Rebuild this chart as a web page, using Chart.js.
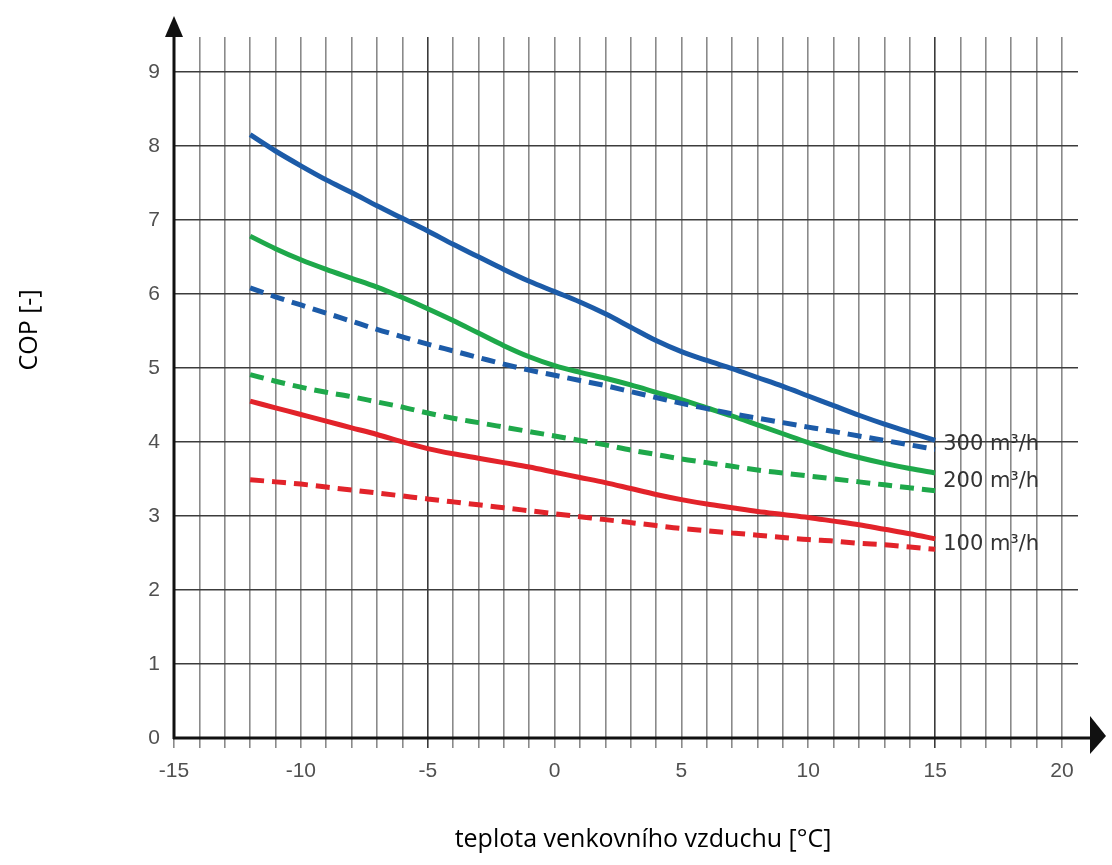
<!DOCTYPE html>
<html>
<head>
<meta charset="utf-8">
<title>COP</title>
<script src="https://cdn.jsdelivr.net/npm/chart.js@4.4.0/dist/chart.umd.min.js"></script>
<style>
    body { margin: 0; background: #fff; }
    #wrap { width: 1112px; height: 865px; }
</style>
</head>
<body>
<div id="wrap"><canvas id="copChart" width="1112" height="865"></canvas></div>
<script>
// outdoor air temperature [°C]
var temps = [-12, -11, -10, -9, -8, -7, -6, -5, -4, -3, -2, -1, 0, 1, 2, 3, 4, 5, 6, 7, 8, 9, 10, 11, 12, 13, 14, 15]

// COP, solid and dashed curve per air flow
var cop300 = [8.15, 7.93, 7.73, 7.54, 7.37, 7.19, 7.02, 6.85, 6.67, 6.50, 6.33, 6.17, 6.03, 5.89, 5.73, 5.55, 5.37, 5.22, 5.10, 4.99, 4.87, 4.75, 4.62, 4.49, 4.36, 4.24, 4.13, 4.02]
var cop300b = [6.08, 5.96, 5.85, 5.74, 5.63, 5.52, 5.42, 5.32, 5.23, 5.14, 5.05, 4.97, 4.90, 4.83, 4.76, 4.68, 4.60, 4.52, 4.45, 4.38, 4.32, 4.26, 4.20, 4.14, 4.08, 4.02, 3.96, 3.90]
var cop200 = [6.78, 6.61, 6.46, 6.33, 6.21, 6.09, 5.95, 5.80, 5.64, 5.47, 5.30, 5.15, 5.03, 4.94, 4.86, 4.77, 4.67, 4.57, 4.46, 4.35, 4.23, 4.11, 3.99, 3.88, 3.79, 3.71, 3.64, 3.58]
var cop200b = [4.91, 4.82, 4.74, 4.67, 4.61, 4.54, 4.47, 4.39, 4.32, 4.26, 4.20, 4.14, 4.08, 4.02, 3.96, 3.89, 3.83, 3.77, 3.72, 3.67, 3.62, 3.58, 3.54, 3.50, 3.46, 3.42, 3.38, 3.34]
var cop100 = [4.55, 4.46, 4.37, 4.28, 4.19, 4.10, 4.00, 3.91, 3.84, 3.78, 3.72, 3.66, 3.59, 3.52, 3.45, 3.37, 3.29, 3.22, 3.16, 3.11, 3.06, 3.02, 2.98, 2.93, 2.88, 2.82, 2.76, 2.69]
var cop100b = [3.49, 3.46, 3.43, 3.39, 3.35, 3.31, 3.27, 3.23, 3.19, 3.15, 3.11, 3.07, 3.03, 2.99, 2.95, 2.91, 2.87, 2.83, 2.80, 2.77, 2.74, 2.71, 2.68, 2.66, 2.63, 2.61, 2.58, 2.55]

var flowLabels = ["300 m³/h", "200 m³/h", "100 m³/h"]
var xTitle = "teplota venkovního vzduchu [°C]"
var yTitle = "COP [-]"

var blue = "#1c5ba8"
var green = "#1ea84a"
var red = "#e2232a"

function points(vals) {
    return temps.map((t, i) => ({ x: t, y: vals[i] }))
}

function curve(vals, color, dashed) {
    return {
        data: points(vals),
        borderColor: color,
        borderWidth: 5,
        borderDash: dashed ? [14, 8] : [],
        pointRadius: 0,
        cubicInterpolationMode: "monotone",
        fill: false
    }
}

// axis lines with arrow heads, axis titles and the flow labels at the line ends
const decorations = {
    id: "decorations",
    afterDraw(chart) {
        var ctx = chart.ctx
        var xs = chart.scales.x
        var ys = chart.scales.y
        var x0 = xs.getPixelForValue(-15)
        var y0 = ys.getPixelForValue(0)
        ctx.save()
        ctx.strokeStyle = "#111"
        ctx.fillStyle = "#111"
        ctx.lineWidth = 3
        ctx.beginPath()
        ctx.moveTo(x0, y0 + 1)
        ctx.lineTo(x0, 30)
        ctx.moveTo(x0 - 1, y0)
        ctx.lineTo(1095, y0)
        ctx.stroke()
        // y arrow
        ctx.beginPath()
        ctx.moveTo(x0, 16)
        ctx.lineTo(x0 - 9, 37)
        ctx.lineTo(x0 + 9, 37)
        ctx.closePath()
        ctx.fill()
        // x arrow
        ctx.beginPath()
        ctx.moveTo(1106, y0 - 2)
        ctx.lineTo(1090, y0 - 22)
        ctx.lineTo(1090, y0 + 16)
        ctx.closePath()
        ctx.fill()

        // flow labels
        ctx.font = "21px 'DejaVu Sans'"
        ctx.fillStyle = "#333"
        ctx.textAlign = "left"
        ctx.textBaseline = "middle"
        var last = temps.length - 1
        var ends = [[cop300, cop300b], [cop200, cop200b], [cop100, cop100b]]
        var lx = xs.getPixelForValue(temps[last]) + 8
        ends.forEach((pair, i) => {
            var mid = (pair[0][last] + pair[1][last]) / 2
            ctx.fillText(flowLabels[i], lx, ys.getPixelForValue(mid))
        })

        // axis titles
        ctx.font = "25px 'Open Sans'"
        ctx.fillStyle = "#000"
        ctx.textAlign = "center"
        ctx.fillText(xTitle, 643, 840)
        ctx.translate(30, 330)
        ctx.rotate(-Math.PI / 2)
        ctx.fillText(yTitle, 0, 0)
        ctx.restore()
    }
}

new Chart("copChart", {
    type: "line",
    data: {
        datasets: [
            curve(cop100b, red, true),
            curve(cop200b, green, true),
            curve(cop300b, blue, true),
            curve(cop100, red, false),
            curve(cop200, green, false),
            curve(cop300, blue, false)
        ]
    },
    options: {
        responsive: false,
        animation: false,
        layout: { padding: { top: 37, right: 34, left: 0, bottom: 0 } },
        plugins: {
            legend: { display: false },
            tooltip: { enabled: false }
        },
        scales: {
            x: {
                type: "linear",
                min: -15,
                max: 20.63,
                border: { display: false },
                grid: {
                    color: c => (c.tick && (c.tick.value === -5 || c.tick.value === 15)) ? "#3a3a3a" : "#8a8a8a",
                    lineWidth: 1.6,
                    tickLength: 10
                },
                ticks: {
                    stepSize: 1,
                    autoSkip: false,
                    includeBounds: false,
                    maxRotation: 0,
                    padding: 11,
                    color: "#505050",
                    font: { family: "Liberation Sans", size: 21 },
                    callback: v => (v % 5 === 0 ? v : "")
                },
                afterFit: s => { s.height = 127 }
            },
            y: {
                min: 0,
                max: 9.47,
                border: { display: false },
                grid: {
                    color: "#3c3c3c",
                    lineWidth: 1.6,
                    drawTicks: false
                },
                ticks: {
                    stepSize: 1,
                    includeBounds: false,
                    padding: 14,
                    color: "#505050",
                    font: { family: "Liberation Sans", size: 21 }
                },
                afterFit: s => { s.width = 174 }
            }
        }
    },
    plugins: [decorations]
})
</script>
</body>
</html>
